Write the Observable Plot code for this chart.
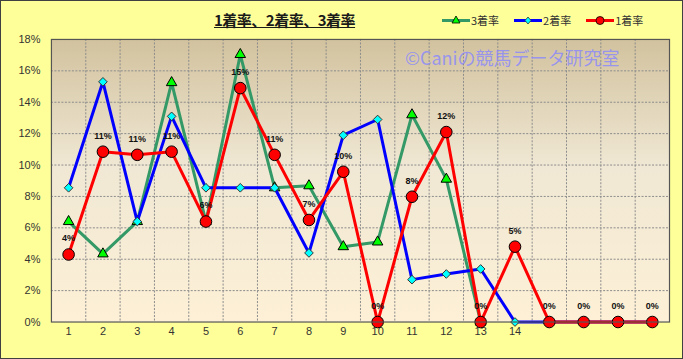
<!DOCTYPE html>
<html>
<head>
<meta charset="utf-8">
<script src="https://cdn.jsdelivr.net/npm/d3@7"></script>
<script src="https://cdn.jsdelivr.net/npm/@observablehq/plot@0.6"></script>
<style>
  html, body { margin: 0; padding: 0; background: #ffffff; }
  #wrap { position: relative; width: 683px; height: 359px; box-sizing: border-box;
          background: #FFFF99; border: 1px solid #404040; overflow: hidden;
          font-family: "Noto Sans CJK JP", "Noto Sans", sans-serif; }
  #chart { position: absolute; left: -1px; top: -1px; }
  #title { position: absolute; top: 9px; left: 213px; font-size: 15px; font-weight: bold;
           color: #1a1a1a; text-decoration: underline; letter-spacing: -0.5px; line-height: 20px; white-space: nowrap; }
  #legend { position: absolute; top: 11px; left: 441px; font-size: 11px; color: #333; line-height: 16px; white-space: nowrap; }
  #legend span.item { display: inline-flex; align-items: center; margin-right: 15px; }
  #legend svg { margin-right: 1px; }
  #wm { position: absolute; top: 44px; left: 404px; font-size: 18px; color: rgba(135,135,255,0.8);
        white-space: nowrap; line-height: 24px; font-family: "Noto Sans CJK JP", sans-serif; }
</style>
</head>
<body>
<div id="wrap">
  <div id="chart"></div>
  <div id="wm">©Caniの競馬データ研究室</div>
  <div id="title">1着率、2着率、3着率</div>
  <div id="legend"></div>
</div>
<script>
// Categories 1..18
const categories = [1, 2, 3, 4, 5, 6, 7, 8, 9, 10, 11, 12, 13, 14, 15, 16, 17, 18];
const xTickLabels = [1, 2, 3, 4, 5, 6, 7, 8, 9, 10, 11, 12, 13, 14];
const yTicks = [0, 2, 4, 6, 8, 10, 12, 14, 16, 18];

// Series values (%)
const rate1 = [4.3, 10.85, 10.65, 10.85, 6.4, 14.9, 10.65, 6.5, 9.57, 0, 7.98, 12.1, 0, 4.8, 0, 0, 0, 0];   // 1着率
const rate2 = [8.55, 15.3, 6.4, 13.1, 8.55, 8.55, 8.55, 4.4, 11.9, 12.9, 2.7, 3.06, 3.38, 0, 0, 0, 0, 0];   // 2着率
const rate3 = [6.4, 4.34, 6.4, 15.25, 6.4, 17.04, 8.55, 8.68, 4.8, 5.1, 13.2, 9.1, 0, null, null, null, null, null]; // 3着率

const seriesNames = ["3着率", "2着率", "1着率"];

const d1 = categories.map((c, i) => ({x: c, v: rate1[i]}));
const d2 = categories.map((c, i) => ({x: c, v: rate2[i]}));
const d3s = categories.map((c, i) => ({x: c, v: rate3[i]})).filter(d => d.v != null);
const boundaries = categories.slice(0, -1).map(c => c + 0.5);
const gridY = yTicks.filter(t => t > 0 && t < 18);

const chart = Plot.plot({
  width: 683,
  height: 359,
  marginLeft: 51,
  marginRight: 13,
  marginTop: 39,
  marginBottom: 37,
  style: {background: "transparent", overflow: "visible", fontFamily: "'Liberation Sans', Arial, sans-serif"},
  x: {domain: [0.5, 18.5], axis: null},
  y: {domain: [0, 18], axis: null},
  marks: [
    Plot.frame({fill: "url(#plotbg)"}),
    Plot.ruleY(gridY, {stroke: "#8c8c8c", strokeWidth: 1, strokeDasharray: "2,1.5"}),
    Plot.ruleX(boundaries, {stroke: "#8c8c8c", strokeWidth: 1, strokeDasharray: "2,1.5"}),
    Plot.axisY({ticks: yTicks, tickFormat: d => d + "%", tickSize: 0, tickPadding: 11, fontSize: 11, color: "#333", label: null}),
    Plot.axisX({ticks: xTickLabels, tickFormat: d => String(d), tickSize: 0, tickPadding: 5, fontSize: 11, color: "#333", label: null}),
    // 3着率
    Plot.line(d3s, {x: "x", y: "v", stroke: "#339966", strokeWidth: 3}),
    Plot.dot(d3s, {x: "x", y: "v", symbol: "triangle", r: 3.9, fill: "#00ff00", stroke: "#000", strokeWidth: 1}),
    // 2着率
    Plot.line(d2, {x: "x", y: "v", stroke: "#0000ff", strokeWidth: 3}),
    Plot.dot(d2, {x: "x", y: "v", symbol: "diamond2", r: 3.9, fill: "#00ffff", stroke: "#333", strokeWidth: 1}),
    // 1着率
    Plot.line(d1, {x: "x", y: "v", stroke: "#ff0000", strokeWidth: 3}),
    Plot.dot(d1, {x: "x", y: "v", r: 5.8, fill: "#ff0000", stroke: "#000", strokeWidth: 1}),
    Plot.text(d1, {x: "x", y: "v", text: d => Math.round(d.v) + "%", dy: -16, fontSize: 9, fontWeight: "bold", fill: "#111"}),
    Plot.frame({stroke: "#555", strokeWidth: 1.2})
  ]
});

// gradient for plot area
const svg = d3.select(chart);
const defs = svg.insert("defs", ":first-child");
const g = defs.append("linearGradient").attr("id", "plotbg").attr("x1", 0).attr("y1", 0).attr("x2", 0).attr("y2", 1);
g.append("stop").attr("offset", "0%").attr("stop-color", "#d2c29e");
g.append("stop").attr("offset", "45%").attr("stop-color", "#f0e8d4");
g.append("stop").attr("offset", "100%").attr("stop-color", "#fdf0d6");
document.getElementById("chart").appendChild(chart);

// legend
const legendStyles = [
  {name: seriesNames[0], stroke: "#339966", fill: "#00ff00", shape: "tri"},
  {name: seriesNames[1], stroke: "#0000ff", fill: "#00ffff", shape: "dia"},
  {name: seriesNames[2], stroke: "#ff0000", fill: "#ff0000", shape: "cir"}
];
const legend = document.getElementById("legend");
legendStyles.forEach(s => {
  let marker = "";
  if (s.shape === "tri") marker = `<path d="M14,2 L18,9 L10,9 Z" fill="${s.fill}" stroke="#000" stroke-width="0.8"/>`;
  if (s.shape === "dia") marker = `<path d="M14,3 L17,6.5 L14,10 L11,6.5 Z" fill="${s.fill}" stroke="#333" stroke-width="0.8"/>`;
  if (s.shape === "cir") marker = `<circle cx="14" cy="6.5" r="4" fill="${s.fill}" stroke="#000" stroke-width="0.8"/>`;
  legend.insertAdjacentHTML("beforeend",
    `<span class="item"><svg width="28" height="13"><line x1="0" x2="28" y1="6.5" y2="6.5" stroke="${s.stroke}" stroke-width="3"/>${marker}</svg>${s.name}</span>`);
});
</script>
</body>
</html>
